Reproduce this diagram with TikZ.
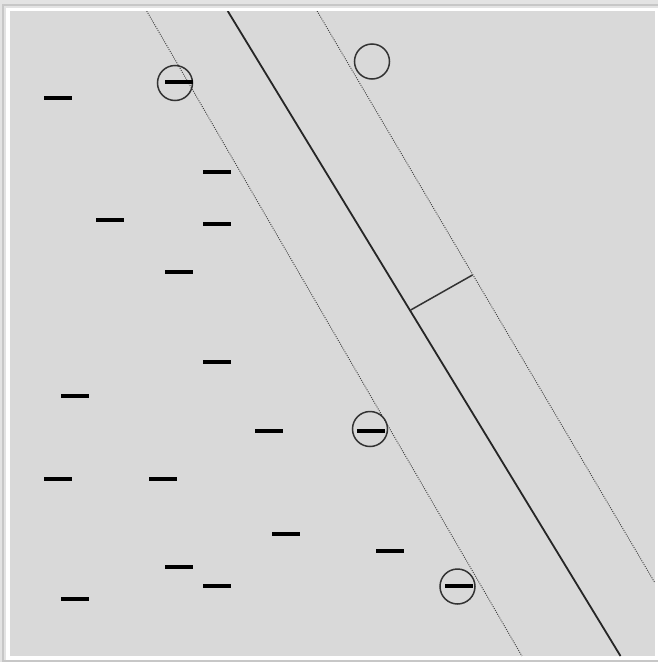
\documentclass[tikz,border=0pt]{standalone}
\begin{document}
\begin{tikzpicture}[x=1pt,y=-1pt,
  bar/.style={rectangle,fill=black,minimum width=28pt,minimum height=4pt,inner sep=0pt,outer sep=0pt},
  sv/.style={circle,draw=black!80,line width=1.5pt,minimum size=35pt,inner sep=0pt},
  margin/.style={draw=black!75,line width=0.9pt,dash pattern=on 1pt off 1.2pt},
  hyper/.style={draw=black!85,line width=1.8pt}]
\useasboundingbox (0,0) rectangle (658,662);
\definecolor{outer}{gray}{0.89}
\definecolor{panel}{gray}{0.85}
\fill[outer] (0,0) rectangle (658,662);
\draw[black!22,line width=2pt] (3,4.5) rectangle (661,661);
\fill[white] (6,8) rectangle (658,659.5);
\fill[panel] (10,11) rectangle (655,656);
\begin{scope}
\clip (10,11) rectangle (655,656);
% margin lines and hyperplane
\coordinate (lt) at (146.7,11);
\coordinate (lb) at (521.9,656);
\coordinate (ht) at (227.7,11);
\coordinate (hb) at (620.5,656);
\coordinate (rt) at (317.1,11);
\coordinate (rb) at (655,583);
\draw[margin] (lt) -- (lb);
\draw[margin] (rt) -- (rb);
\draw[hyper] (ht) -- (hb);
\coordinate (p1) at (410.7,310);
\coordinate (p2) at (472.5,275);
\draw[black!80,line width=1.5pt] (p1) -- (p2);
\end{scope}
% circles
\node[sv] (c1) at (175,83) {};
\node[sv] (c2) at (372,61.5) {};
\node[sv] (c3) at (370,429) {};
\node[sv] (c4) at (457.5,586.5) {};
% bars inside circles
\node[bar] (s1) at (178.5,82) {};
\node[bar] (s3) at (371,430.5) {};
\node[bar] (s4) at (459,586) {};
% free minus bars
\node[bar] (m1) at (57.5,98) {};
\node[bar] (m2) at (216.5,172) {};
\node[bar] (m3) at (110,220) {};
\node[bar] (m4) at (216.5,224) {};
\node[bar] (m5) at (179,272) {};
\node[bar] (m6) at (216.5,362) {};
\node[bar] (m7) at (74.5,396) {};
\node[bar] (m8) at (269,431) {};
\node[bar] (m9) at (57.5,479) {};
\node[bar] (m10) at (162.5,479) {};
\node[bar] (m11) at (285.5,534) {};
\node[bar] (m12) at (390,551) {};
\node[bar] (m13) at (179,567) {};
\node[bar] (m14) at (216.5,586) {};
\node[bar] (m15) at (74.5,599) {};
\end{tikzpicture}
\end{document}
